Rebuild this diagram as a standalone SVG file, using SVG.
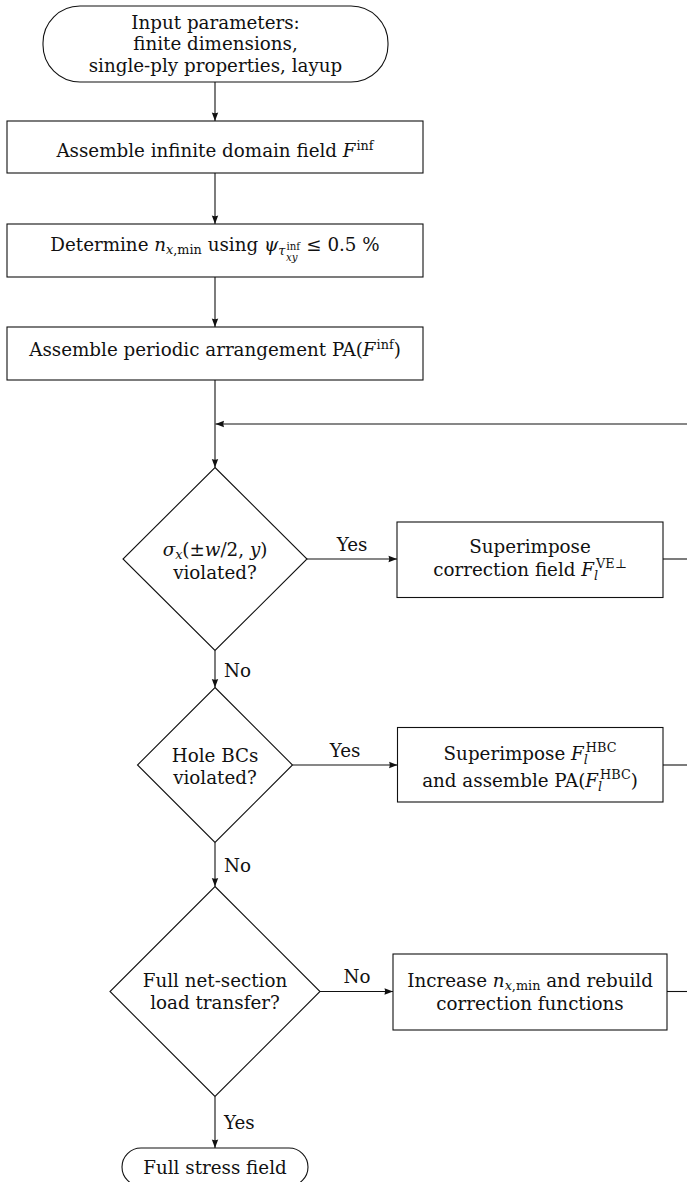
<svg xmlns="http://www.w3.org/2000/svg" width="687" height="1182" viewBox="0 0 687 1182">
<style>
text{font-family:"DejaVu Serif","Liberation Serif",serif;font-size:18.3px;fill:#111;text-anchor:middle}
.it{font-style:italic}
.s{font-size:12.8px}
.ss{font-size:10.2px}
.lbl{text-anchor:start}
.shape{fill:#fff;stroke:#111;stroke-width:1.1}
#connectors line{stroke:#111;stroke-width:1.1;fill:none}
</style>
<defs>
<marker id="arr" markerUnits="userSpaceOnUse" markerWidth="10" markerHeight="8" refX="9" refY="4" orient="auto">
<path d="M0.5,0.8 L9,4 L0.5,7.2 Q2,4 0.5,0.8 z" fill="#111"/>
</marker>
</defs>
<rect width="687" height="1182" fill="#fff"/>

<g id="connectors">
<line x1="215" y1="82" x2="215" y2="121" marker-end="url(#arr)"/>
<line x1="215" y1="173" x2="215" y2="224" marker-end="url(#arr)"/>
<line x1="215" y1="277" x2="215" y2="327" marker-end="url(#arr)"/>
<line x1="215" y1="380" x2="215" y2="467.5" marker-end="url(#arr)"/>
<line x1="687" y1="424" x2="215.5" y2="424" marker-end="url(#arr)"/>
<line x1="307" y1="559" x2="397" y2="559" marker-end="url(#arr)"/>
<line x1="663" y1="559" x2="687" y2="559"/>
<line x1="215" y1="650.5" x2="215" y2="687.5" marker-end="url(#arr)"/>
<line x1="292.5" y1="765" x2="397.5" y2="765" marker-end="url(#arr)"/>
<line x1="663" y1="765" x2="687" y2="765"/>
<line x1="215" y1="842.5" x2="215" y2="886.5" marker-end="url(#arr)"/>
<line x1="320" y1="991.5" x2="393" y2="991.5" marker-end="url(#arr)"/>
<line x1="667" y1="991.5" x2="687" y2="991.5"/>
<line x1="215" y1="1096.5" x2="215" y2="1148" marker-end="url(#arr)"/>
<text x="352" y="551">Yes</text>
<text class="lbl" x="224" y="676.5">No</text>
<text x="345" y="757">Yes</text>
<text class="lbl" x="224" y="871.5">No</text>
<text x="357" y="982.5">No</text>
<text class="lbl" x="224" y="1128.5">Yes</text>
</g>

<g id="start">
<rect class="shape" x="43" y="6" width="345" height="76" rx="37" ry="37"/>
<text x="215.5" y="28.5">Input parameters:</text>
<text x="215.5" y="50">finite dimensions,</text>
<text x="215.5" y="71.5">single-ply properties, layup</text>
</g>

<g id="assemble-inf">
<rect class="shape" x="7" y="121" width="416" height="52"/>
<text x="215" y="156.5">Assemble infinite domain field <tspan class="it">F</tspan><tspan class="s" dx="1" dy="-7">inf</tspan></text>
</g>

<g id="determine">
<rect class="shape" x="7" y="224" width="416" height="53"/>
<text x="215" y="250.5">Determine <tspan class="it">n</tspan><tspan class="s it" dy="3">x</tspan><tspan class="s">,min</tspan><tspan dy="-3"> using </tspan><tspan class="it">ψ</tspan><tspan class="s it" dy="4">τ</tspan><tspan class="ss" dx="1" dy="-5">inf</tspan><tspan class="ss it" dx="-14" dy="11">xy</tspan><tspan dx="3" dy="-10"> ≤ 0.5 %</tspan></text>
</g>

<g id="assemble-pa">
<rect class="shape" x="7" y="327" width="416" height="53"/>
<text x="215" y="356">Assemble periodic arrangement PA(<tspan class="it">F</tspan><tspan class="s" dx="1" dy="-7">inf</tspan><tspan dy="7">)</tspan></text>
</g>

<g id="check-edge">
<polygon class="shape" points="215,467.5 307,559 215,650.5 123,559"/>
<text x="215" y="555.5"><tspan class="it">σ</tspan><tspan class="s it" dy="3">x</tspan><tspan dy="-3">(±</tspan><tspan class="it">w</tspan>/2, <tspan class="it">y</tspan>)</text>
<text x="215" y="578.5">violated?</text>
</g>

<g id="correct-edge">
<rect class="shape" x="397" y="522" width="266" height="75.5"/>
<text x="530" y="553">Superimpose</text>
<text x="530" y="575.5">correction field <tspan class="it">F</tspan><tspan class="s it" dy="4">l</tspan><tspan class="s" dx="-2" dy="-12">VE⊥</tspan></text>
</g>

<g id="check-hole">
<polygon class="shape" points="215,687.5 292.5,765 215,842.5 137.5,765"/>
<text x="215" y="761.5">Hole BCs</text>
<text x="215" y="783.5">violated?</text>
</g>

<g id="correct-hole">
<rect class="shape" x="397.5" y="727.5" width="265.5" height="74.5"/>
<text x="530" y="760">Superimpose <tspan class="it">F</tspan><tspan class="s it" dy="4">l</tspan><tspan class="s" dx="-2" dy="-12">HBC</tspan></text>
<text x="530" y="787">and assemble PA(<tspan class="it">F</tspan><tspan class="s it" dy="4">l</tspan><tspan class="s" dx="-2" dy="-12">HBC</tspan><tspan dy="8">)</tspan></text>
</g>

<g id="check-load">
<polygon class="shape" points="215,886.5 320,991.5 215,1096.5 110,991.5"/>
<text x="215" y="987">Full net-section</text>
<text x="215" y="1009">load transfer?</text>
</g>

<g id="increase">
<rect class="shape" x="393" y="954" width="274" height="76"/>
<text x="530" y="986.5">Increase <tspan class="it">n</tspan><tspan class="s it" dy="3">x</tspan><tspan class="s">,min</tspan><tspan dy="-3"> and rebuild</tspan></text>
<text x="530" y="1010">correction functions</text>
</g>

<g id="end">
<rect class="shape" x="122" y="1148" width="186" height="38" rx="19" ry="19"/>
<text x="215" y="1174">Full stress field</text>
</g>
</svg>
